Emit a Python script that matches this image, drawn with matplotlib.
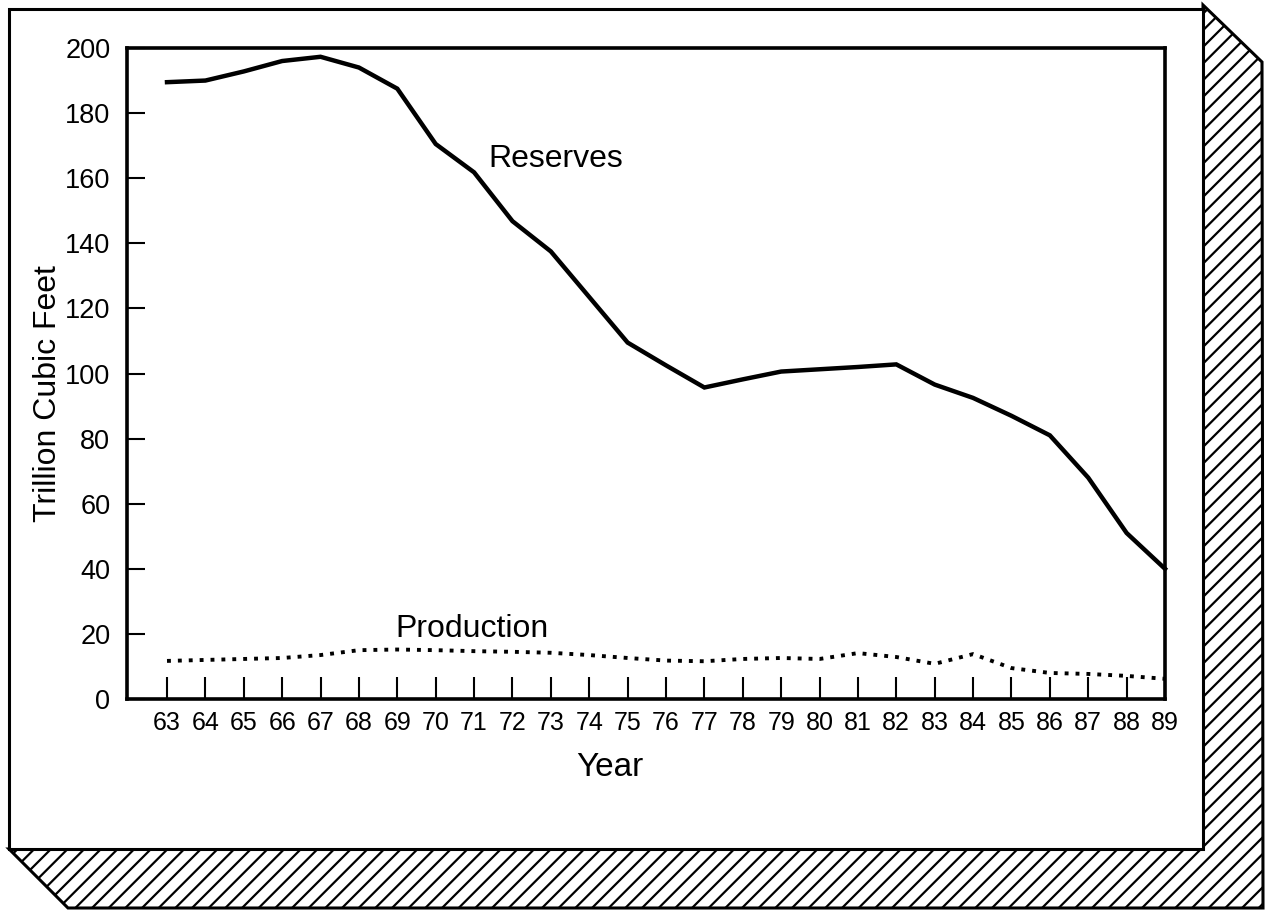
import matplotlib
matplotlib.use("Agg")
import matplotlib.pyplot as plt
from matplotlib.patches import Polygon, Rectangle

plt.rcParams['font.family'] = ['Liberation Sans', 'DejaVu Sans']
plt.rcParams['hatch.linewidth'] = 1.6

years = list(range(63, 90))
year_labels = [str(y) for y in years]
reserves = [189.5, 190, 192.8, 196, 197.3, 194, 187.5, 170.5, 161.8, 146.8,
            137.5, 123.5, 109.5, 102.5, 95.7, 98.2, 100.6, 101.3, 102, 102.8,
            96.6, 92.5, 87, 81, 68, 51, 40]
production = [11.7, 12.0, 12.3, 12.6, 13.5, 15.0, 15.2, 15.0, 14.7, 14.5,
              14.2, 13.5, 12.6, 11.8, 11.6, 12.3, 12.6, 12.3, 14.1, 12.9,
              10.8, 13.8, 9.5, 8.0, 7.7, 7.1, 6.2]
y_ticks = [0, 20, 40, 60, 80, 100, 120, 140, 160, 180, 200]

W, H = 1269, 911
fig = plt.figure(figsize=(W / 100, H / 100), dpi=100)

# background frame with hatched drop shadow
bg = fig.add_axes([0, 0, 1, 1], zorder=0)
bg.set_xlim(0, W)
bg.set_ylim(H, 0)
bg.axis('off')
shadow = Polygon([(1203, 5), (1262, 62), (1263, 908), (68, 908), (9, 849),
                  (1203, 849)], closed=True, facecolor='white',
                 edgecolor='black', hatch='//', linewidth=2.2)
bg.add_patch(shadow)
bg.add_patch(Rectangle((9, 9), 1194, 840, facecolor='white',
                       edgecolor='black', linewidth=2.2))

# main chart
ax = fig.add_axes([127 / W, 1 - 699 / H, (1165 - 127) / W, (699 - 48) / H],
                  zorder=2)
ax.set_facecolor('none')
ax.plot(years, reserves, color='black', lw=3.2, solid_joinstyle='miter',
        clip_on=False)
ax.plot(years, production, color='black', lw=2.8, linestyle=(0, (1, 1.8)),
        clip_on=False)

ax.set_xlim(63 - 40 / 38.38, 89)
ax.set_ylim(0, 200)
ax.set_xticks(years)
ax.set_xticklabels(year_labels, fontsize=18)
ax.set_yticks(y_ticks)
ax.set_yticklabels([str(v) for v in y_ticks], fontsize=19.5)
ax.tick_params(axis='x', direction='in', length=16, width=1.5, pad=9)
ax.tick_params(axis='y', direction='in', length=13, width=1.5, pad=12)
for s in ax.spines.values():
    s.set_linewidth(2.6)

ax.text(71.36, 163.4, 'Reserves', fontsize=23, ha='left', va='baseline')
ax.text(68.96, 19.1, 'Production', fontsize=23, ha='left', va='baseline')

fig.text(48 / W, 1 - 394 / H, 'Trillion Cubic Feet', fontsize=23,
         rotation=90, ha='center', va='center')
fig.text(610 / W, 1 - 768 / H, 'Year', fontsize=24, ha='center', va='center')

fig.savefig('out.png', dpi=100)
